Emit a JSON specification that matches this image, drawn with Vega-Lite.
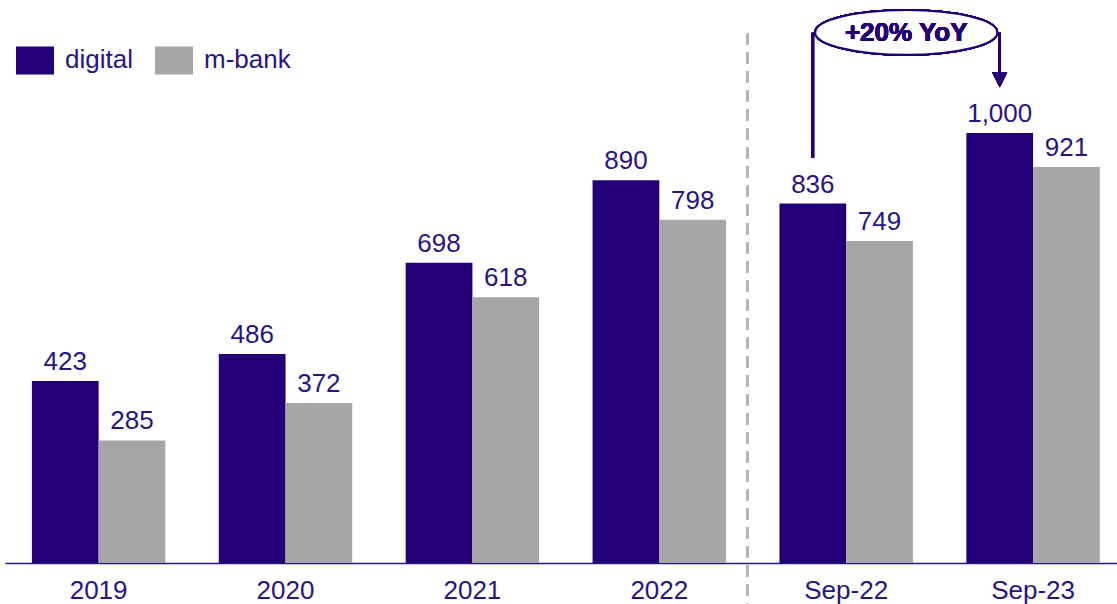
{
  "$schema": "https://vega.github.io/schema/vega-lite/v6.json",
  "width": 1112,
  "height": 559,
  "autosize": {"type": "none"},
  "padding": {"left": 5, "top": 4, "right": 0, "bottom": 41},
  "background": "white",
  "config": {
    "view": {"stroke": null},
    "font": "Liberation Sans"
  },
  "data": {
    "values": [
      {"cat": "2019", "series": "digital", "value": 423},
      {"cat": "2019", "series": "m-bank", "value": 285},
      {"cat": "2020", "series": "digital", "value": 486},
      {"cat": "2020", "series": "m-bank", "value": 372},
      {"cat": "2021", "series": "digital", "value": 698},
      {"cat": "2021", "series": "m-bank", "value": 618},
      {"cat": "2022", "series": "digital", "value": 890},
      {"cat": "2022", "series": "m-bank", "value": 798},
      {"cat": "Sep-22", "series": "digital", "value": 836},
      {"cat": "Sep-22", "series": "m-bank", "value": 749},
      {"cat": "Sep-23", "series": "digital", "value": 1000},
      {"cat": "Sep-23", "series": "m-bank", "value": 921}
    ]
  },
  "layer": [
    {
      "mark": {"type": "bar"},
      "encoding": {
        "x": {
          "field": "cat", "type": "nominal", "sort": null,
          "scale": {"domain": ["2019","2020","2021","2022","Sep-22","Sep-23"], "paddingInner": 0.286, "paddingOuter": 0.118, "align": 0.61},
          "axis": {"title": null, "labelAngle": 0, "ticks": false, "grid": false, "domainColor": "#2A1482", "domainWidth": 1.5, "labelColor": "#2A1482", "labelFont": "Liberation Sans", "labelFontSize": 26, "labelBaseline": "alphabetic", "labelPadding": 35}
        },
        "xOffset": {"field": "series", "type": "nominal", "scale": {"domain": ["digital","m-bank"], "paddingInner": 0, "paddingOuter": 0}},
        "y": {"field": "value", "type": "quantitative", "scale": {"domain": [0, 1300], "nice": false}, "axis": null},
        "color": {
          "field": "series", "type": "nominal",
          "scale": {"domain": ["digital","m-bank"], "range": ["#240078", "#A6A6A6"]},
          "legend": {"orient": "none", "legendX": 11, "legendY": 37, "direction": "horizontal", "title": null, "symbolType": "M-1,-0.737H1V0.737H-1Z", "symbolSize": 1444, "symbolStrokeWidth": 0, "symbolOpacity": 1, "labelFontSize": 26, "labelFont": "Liberation Sans", "labelColor": "#2A1482", "labelOffset": 11, "labelBaseline": "middle", "labelLimit": 300, "columnPadding": 22, "padding": 0}
        }
      }
    },
    {
      "mark": {"type": "text", "baseline": "alphabetic", "dy": -11, "fontSize": 26, "font": "Liberation Sans", "fill": "#2A1482"},
      "encoding": {
        "x": {"field": "cat", "type": "nominal", "sort": null},
        "xOffset": {"field": "series", "type": "nominal"},
        "y": {"field": "value", "type": "quantitative"},
        "text": {"field": "value", "type": "quantitative", "format": ",d"}
      }
    },
    {
      "mark": {"type": "rule", "color": "#B4B4B4", "strokeWidth": 2.4, "strokeDash": [11, 8]},
      "encoding": {
        "x": {"datum": "2022", "bandPosition": 1.16},
        "y": {"datum": 1232},
        "y2": {"datum": -96}
      }
    },
    {
      "mark": {"type": "rule", "color": "#240078", "strokeWidth": 2.5},
      "encoding": {
        "x": {"datum": "Sep-22"},
        "xOffset": {"datum": "digital"},
        "y": {"datum": 1233},
        "y2": {"datum": 942}
      }
    },
    {
      "mark": {"type": "rule", "color": "#240078", "strokeWidth": 2.5},
      "encoding": {
        "x": {"datum": "Sep-23"},
        "xOffset": {"datum": "digital"},
        "y": {"datum": 1233},
        "y2": {"datum": 1124}
      }
    },
    {
      "mark": {"type": "point", "shape": "M-1,-1L1,-1L0,1Z", "size": 225, "filled": true, "fill": "#240078", "strokeWidth": 0, "opacity": 1},
      "encoding": {
        "x": {"datum": "Sep-23"},
        "xOffset": {"datum": "digital"},
        "y": {"datum": 1124}
      }
    },
    {
      "mark": {"type": "point", "shape": "M-1,0A1,0.247,0,1,0,1,0A1,0.247,0,1,0,-1,0Z", "size": 33124, "filled": true, "fill": "white", "stroke": "#240078", "strokeWidth": 2, "opacity": 1},
      "encoding": {
        "x": {"datum": "Sep-22", "bandPosition": 0.95},
        "y": {"datum": 1234}
      }
    },
    {
      "mark": {"type": "text", "text": "+20% YoY", "fontSize": 26, "fontWeight": "bold", "font": "Liberation Sans", "fill": "#240078", "strokeWidth": 0, "baseline": "middle", "align": "center", "dy": 1},
      "encoding": {
        "x": {"datum": "Sep-22", "bandPosition": 0.95},
        "y": {"datum": 1234}
      }
    }
  ]
}
